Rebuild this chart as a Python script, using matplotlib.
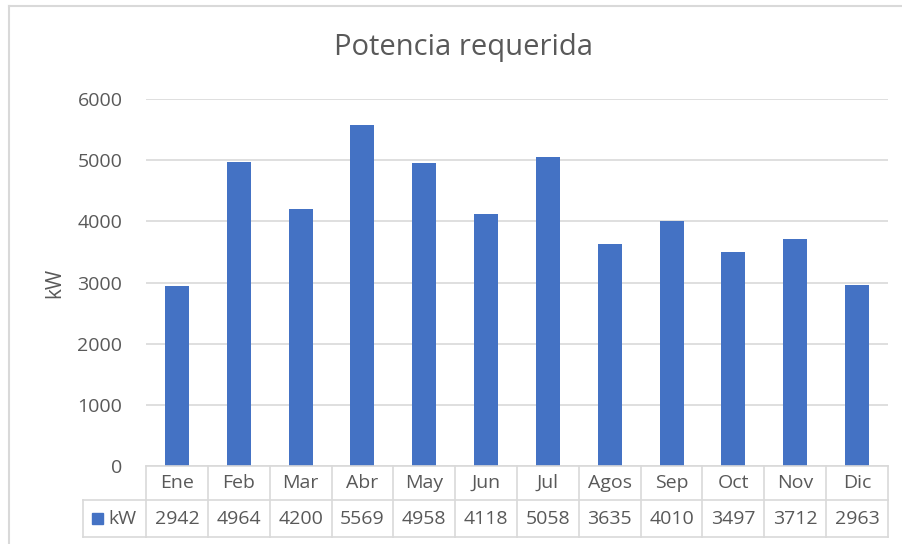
import matplotlib
matplotlib.use("Agg")
import matplotlib.pyplot as plt
from matplotlib.patches import Rectangle

months = ["Ene", "Feb", "Mar", "Abr", "May", "Jun", "Jul", "Agos", "Sep", "Oct", "Nov", "Dic"]
power_kw = [2942, 4964, 4200, 5569, 4958, 4118, 5058, 3635, 4010, 3497, 3712, 2963]
y_ticks = [0, 1000, 2000, 3000, 4000, 5000, 6000]
series_name = "kW"
title = "Potencia requerida"

BAR = "#4472C4"
TXT = "#595959"
GRID = "#D9D9D9"

plt.rcParams["font.family"] = ["Open Sans", "DejaVu Sans"]

W, H = 902, 544
fig = plt.figure(figsize=(W / 100, H / 100), dpi=100)

# plot area in pixel coordinates
px_l, px_r, px_t, px_b = 146, 888, 99, 466
ax = fig.add_axes([px_l / W, 1 - px_b / H, (px_r - px_l) / W, (px_b - px_t) / H])

x = list(range(len(months)))
ax.bar(x, power_kw, width=0.39, color=BAR, zorder=3)
ax.set_xlim(-0.5, len(months) - 0.5)
ax.set_ylim(0, 6000)
ax.set_yticks(y_ticks)
ax.set_yticklabels([str(v) for v in y_ticks])
ax.tick_params(axis="y", length=0, pad=17, labelsize=14, labelcolor=TXT)
ax.set_xticks([])
for s in ax.spines.values():
    s.set_visible(False)
ax.grid(axis="y", color=GRID, linewidth=1.2, zorder=0)
ax.set_ylabel(series_name, color=TXT, fontsize=15, labelpad=9)

fig.text(463 / W, 1 - 48 / H, title, ha="center", va="center", fontsize=21, color=TXT)

# outer chart border
fig.add_artist(plt.Line2D([9 / W, 1], [1 - 6 / H, 1 - 6 / H], color="#D9D9D9", lw=1.5))
fig.add_artist(plt.Line2D([9 / W, 9 / W], [0, 1 - 6 / H], color="#D9D9D9", lw=1.5))

# data table below the plot area
trans = ax.get_xaxis_transform()
ah = px_b - px_t
r1 = -(500 - px_b) / ah
r2 = -(537 - px_b) / ah
leg_l = (83 - px_l) / (px_r - px_l)
tbl = dict(color=GRID, lw=1.2, clip_on=False, zorder=4)
n = len(months)
# horizontal lines
ax.plot([-0.5, n - 0.5], [0, 0], transform=trans, **tbl)
ax.plot([-0.5, n - 0.5], [r1, r1], transform=trans, **tbl)
ax.plot([-0.5, n - 0.5], [r2, r2], transform=trans, **tbl)
ax.plot([leg_l, 0], [r1, r1], transform=ax.transAxes, **tbl)
ax.plot([leg_l, 0], [r2, r2], transform=ax.transAxes, **tbl)
ax.plot([leg_l, leg_l], [r1, r2], transform=ax.transAxes, **tbl)
# vertical lines
for i in range(n + 1):
    ax.plot([i - 0.5, i - 0.5], [0, r2], transform=trans, **tbl)

for i, (m, v) in enumerate(zip(months, power_kw)):
    ax.text(i, r1 / 2, m, transform=trans, ha="center", va="center",
            fontsize=14, color=TXT)
    ax.text(i, (r1 + r2) / 2, str(v), transform=trans, ha="center", va="center",
            fontsize=14, color=TXT)

# legend key inside the table
key_w = 11 / (px_r - px_l)
key_h = 11 / ah
kx = (92 - px_l) / (px_r - px_l)
ymid = (r1 + r2) / 2
ax.add_patch(Rectangle((kx, ymid - key_h / 2), key_w, key_h, transform=ax.transAxes,
                       color=BAR, clip_on=False))
ax.text((108 - px_l) / (px_r - px_l), ymid, series_name, transform=ax.transAxes,
        ha="left", va="center", fontsize=14, color=TXT)

fig.savefig("out.png", dpi=100)
